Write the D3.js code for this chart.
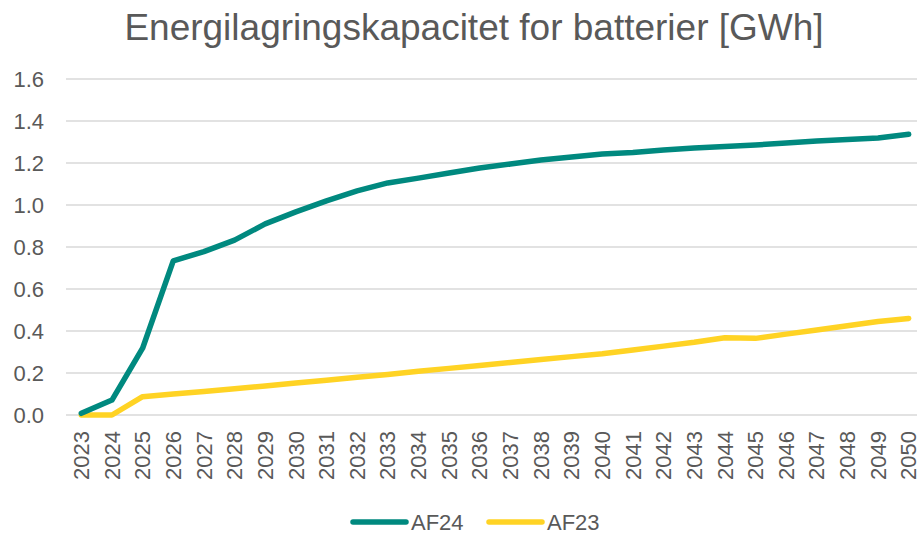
<!DOCTYPE html>
<html>
<head>
<meta charset="utf-8">
<title>Energilagringskapacitet for batterier</title>
<script src="https://d3js.org/d3.v7.min.js"></script>
<style>
  body { margin: 0; background: #fff; }
  text { font-family: "Liberation Sans", Arial, sans-serif; fill: #595959; }
</style>
</head>
<body>
<div id="chart"></div>
<script>
  // data
  let years = d3.range(2023, 2051).map(String)
  let af24 = [0.008, 0.071, 0.318, 0.734, 0.778, 0.833, 0.91, 0.967, 1.02, 1.067, 1.105, 1.128, 1.152, 1.176,
              1.195, 1.214, 1.229, 1.243, 1.25, 1.262, 1.271, 1.279, 1.286, 1.295, 1.305, 1.312, 1.319, 1.337]
  let af23 = [0.0, 0.0, 0.087, 0.1, 0.112, 0.125, 0.138, 0.152, 0.166, 0.18, 0.193, 0.208, 0.222, 0.236,
              0.25, 0.264, 0.278, 0.292, 0.31, 0.328, 0.346, 0.368, 0.365, 0.385, 0.405, 0.425, 0.445, 0.46]
  let yTicks = [0, 0.2, 0.4, 0.6, 0.8, 1.0, 1.2, 1.4, 1.6]
  let series = [
    {name: 'AF24', values: af24, color: '#00897f'},
    {name: 'AF23', values: af23, color: '#ffd324'}
  ]

  let svgw = 917, svgh = 533
  let margen = {sup: 79, inf: 118, izq: 66, der: -7}
  let vizw = svgw - margen.izq - margen.der
  let vizh = svgh - margen.sup - margen.inf

  let svg = d3.select('#chart').append('svg')
    .attr('width', svgw)
    .attr('height', svgh)

  svg.append('text')
    .attr('x', 474)
    .attr('y', 40)
    .attr('text-anchor', 'middle')
    .style('font-size', '37px')
    .text('Energilagringskapacitet for batterier [GWh]')

  let x = d3.scaleBand().domain(years).range([0, vizw])
  let y = d3.scaleLinear().domain([0, 1.6]).range([vizh, 0])

  let g = svg.append('g').attr('transform', `translate(${margen.izq}, ${margen.sup})`)

  // grid lines
  g.append('g')
    .selectAll('line')
    .data(yTicks)
    .join('line')
    .attr('x1', 0)
    .attr('x2', vizw)
    .attr('y1', d => y(d))
    .attr('y2', d => y(d))
    .attr('stroke', '#d9d9d9')
    .attr('stroke-width', 1.5)

  // y axis
  let ejeY = g.append('g')
    .call(d3.axisLeft(y).tickValues(yTicks).tickFormat(d3.format('.1f')).tickSize(0).tickPadding(22))
  ejeY.select('.domain').remove()
  ejeY.selectAll('text').style('font-size', '22px').attr('dy', '0.35em')

  // x axis
  let ejeX = g.append('g')
    .attr('transform', `translate(0, ${vizh})`)
    .call(d3.axisBottom(x).tickSize(0))
  ejeX.select('.domain').remove()
  ejeX.selectAll('text')
    .style('font-size', '22px')
    .attr('transform', 'rotate(-90)')
    .attr('text-anchor', 'end')
    .attr('x', -16)
    .attr('y', 0)
    .attr('dy', '0.35em')

  let linea = d3.line()
    .x((d, i) => x(years[i]) + x.bandwidth() / 2)
    .y(d => y(d))

  g.selectAll('path.serie')
    .data(series.slice().reverse())
    .join('path')
    .attr('class', 'serie')
    .attr('d', d => linea(d.values))
    .attr('fill', 'none')
    .attr('stroke', d => d.color)
    .attr('stroke-width', 5.5)
    .attr('stroke-linejoin', 'round')
    .attr('stroke-linecap', 'round')

  // legend
  let leyenda = svg.append('g').attr('transform', 'translate(353, 522)')
  let items = leyenda.selectAll('g')
    .data(series)
    .join('g')
    .attr('transform', (d, i) => `translate(${i * 136}, 0)`)
  items.append('line')
    .attr('x1', 0).attr('x2', 53)
    .attr('stroke', d => d.color)
    .attr('stroke-width', 5.5)
    .attr('stroke-linecap', 'round')
  items.append('text')
    .attr('x', 58)
    .attr('dy', '0.35em')
    .style('font-size', '22px')
    .text(d => d.name)
</script>
</body>
</html>
